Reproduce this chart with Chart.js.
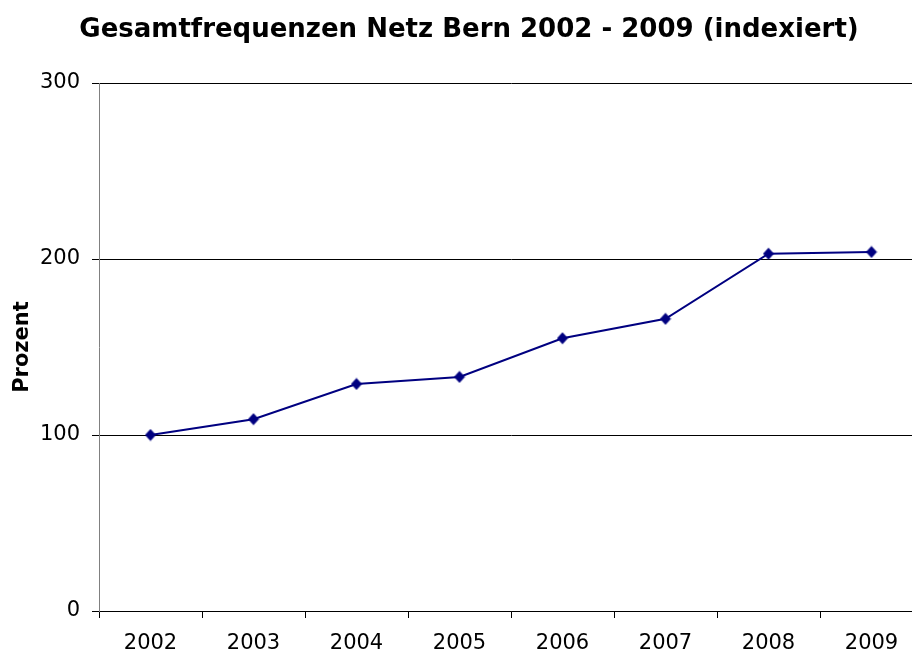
<!DOCTYPE html>
<html>
<head>
<meta charset="utf-8">
<script src="https://cdn.jsdelivr.net/npm/chart.js@4.4.0/dist/chart.umd.min.js"></script>
<style>
    html, body { margin: 0; padding: 0; background: #fff; overflow: hidden; }
    /* the original picture is cropped on the right: the plot runs past the edge */
    #wrap { width: 912px; height: 651px; overflow: hidden; }
</style>
</head>
<body>
<div id="wrap"><canvas id="chart" width="924" height="651"></canvas></div>
<script>
// Daten (indexiert, 2002 = 100)
const years = ['2002', '2003', '2004', '2005', '2006', '2007', '2008', '2009'];
const frequenzen = [100, 109, 129, 133, 155, 166, 203, 204];
const yTicks = [0, 100, 200, 300];
const chartTitle = 'Gesamtfrequenzen Netz Bern 2002 - 2009 (indexiert)';

const FONT = "'DejaVu Sans', Verdana, sans-serif";
const NAVY = '#000080';

// elongated diamond marker like the Excel original
function diamondMarker() {
    const c = document.createElement('canvas');
    c.width = 12; c.height = 13;
    const g = c.getContext('2d');
    g.fillStyle = NAVY;
    g.beginPath();
    g.moveTo(6, 0.5); g.lineTo(11.5, 6.5); g.lineTo(6, 12.5); g.lineTo(0.5, 6.5);
    g.closePath();
    g.fill();
    return c;
}

// title sits slightly right of the visible centre, as in the original
const titlePlugin = {
    id: 'excelTitle',
    afterDraw(chart) {
        const ctx = chart.ctx;
        ctx.save();
        ctx.font = `bold 26px ${FONT}`;
        ctx.fillStyle = '#000';
        ctx.textAlign = 'center';
        ctx.textBaseline = 'alphabetic';
        ctx.fillText(chartTitle, 469, 37);
        ctx.restore();
    }
};

new Chart(document.getElementById('chart'), {
    type: 'line',
    data: {
        labels: years,
        datasets: [{
            label: 'Gesamtfrequenzen',
            data: frequenzen,
            borderColor: NAVY,
            backgroundColor: NAVY,
            borderWidth: 2,
            tension: 0,
            pointStyle: diamondMarker(),
            pointRadius: 6
        }]
    },
    plugins: [titlePlugin],
    options: {
        responsive: false,
        animation: false,
        layout: { autoPadding: false, padding: { left: 0, right: 1, top: 83, bottom: 0 } },
        plugins: {
            legend: { display: false },
            tooltip: { enabled: false },
            title: { display: false }
        },
        scales: {
            x: {
                offset: true,
                grid: { offset: true, drawOnChartArea: false, drawTicks: true, tickLength: 7, color: '#000' },
                border: { color: '#000', width: 1 },
                ticks: { color: '#000', font: { family: FONT, size: 21 }, padding: 13, maxRotation: 0 },
                afterFit: s => { s.height = 40; }
            },
            y: {
                min: 0, max: 300,
                afterBuildTicks: s => { s.ticks = yTicks.map(v => ({ value: v })); },
                grid: { color: '#000', tickLength: 7, drawTicks: true },
                border: { color: '#808080', width: 1 },
                ticks: { color: '#000', font: { family: FONT, size: 21 }, padding: 12 },
                title: {
                    display: true,
                    text: 'Prozent',
                    color: '#000',
                    font: { family: FONT, size: 21, weight: 'bold' },
                    padding: { top: 10, bottom: 0 }
                },
                afterFit: s => { s.width = 99; }
            }
        }
    }
});
</script>
</body>
</html>
